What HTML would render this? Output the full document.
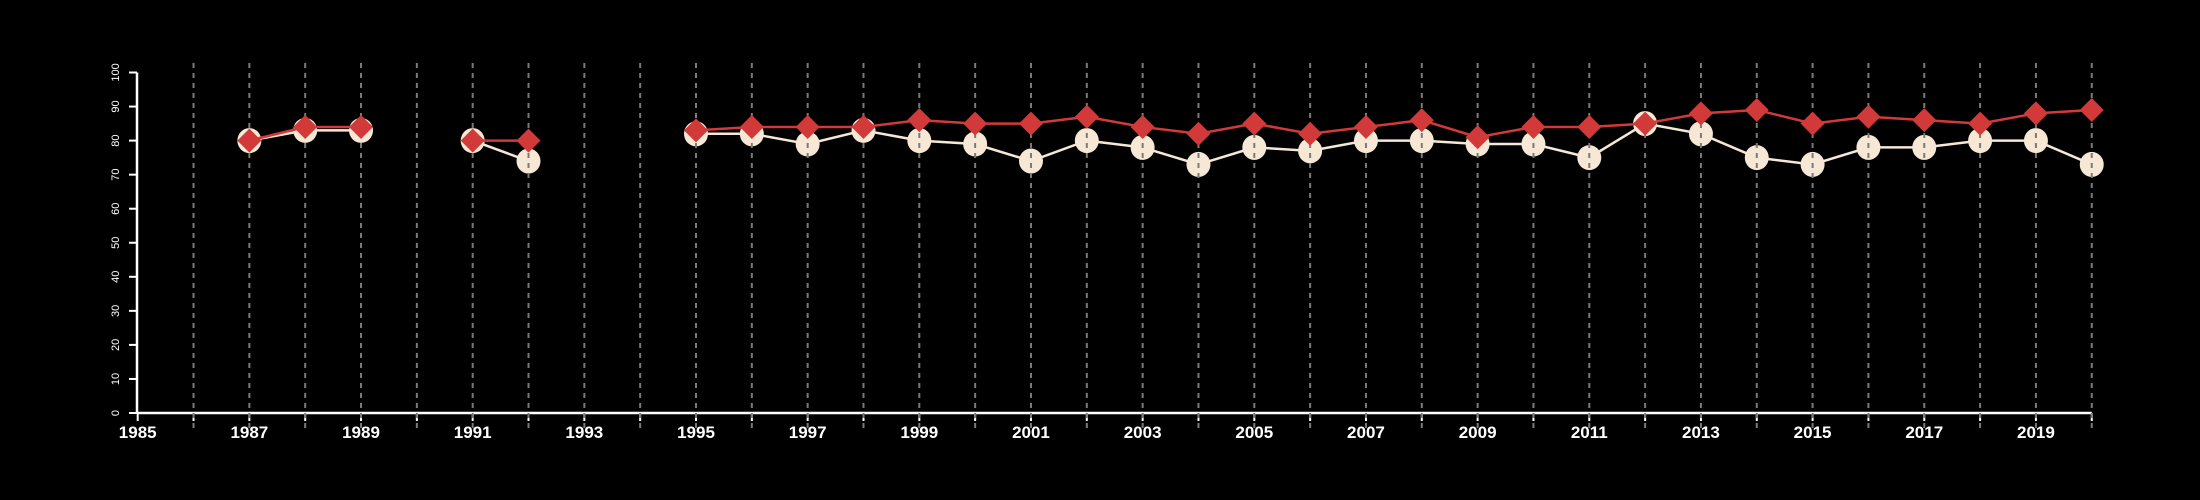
<!DOCTYPE html>
<html><head><meta charset="utf-8"><style>
html,body{margin:0;padding:0;background:#000;}
svg{display:block;}
</style></head><body>
<svg id="c" width="2200" height="500" xmlns="http://www.w3.org/2000/svg" font-family="Liberation Sans, sans-serif"></svg>
<script>
const svg=document.getElementById('c');
const NS='http://www.w3.org/2000/svg';
function el(t,a,txt){const e=document.createElementNS(NS,t);for(const k in a)e.setAttribute(k,a[k]);if(txt!==undefined)e.textContent=txt;svg.appendChild(e);return e;}
const X=y=>137.7+(y-1985)*55.83;
const Y=v=>413-v*3.405;
const white=[[1987,80],[1988,83],[1989,83],null,[1991,80],[1992,74],null,[1995,82],[1996,82],[1997,79],[1998,83],[1999,80],[2000,79],[2001,74],[2002,80],[2003,78],[2004,73],[2005,78],[2006,77],[2007,80],[2008,80],[2009,79],[2010,79],[2011,75],[2012,85],[2013,82],[2014,75],[2015,73],[2016,78],[2017,78],[2018,80],[2019,80],[2020,73]];
const red=[[1987,80],[1988,84],[1989,84],null,[1991,80],[1992,80],null,[1995,83],[1996,84],[1997,84],[1998,84],[1999,86],[2000,85],[2001,85],[2002,87],[2003,84],[2004,82],[2005,85],[2006,82],[2007,84],[2008,86],[2009,81],[2010,84],[2011,84],[2012,85],[2013,88],[2014,89],[2015,85],[2016,87],[2017,86],[2018,85],[2019,88],[2020,89]];
function lines(d,col){let seg=[];const flush=()=>{if(seg.length>1)el('polyline',{points:seg.map(p=>X(p[0])+','+Y(p[1])).join(' '),fill:'none',stroke:col,'stroke-width':2.5});seg=[];};d.forEach(p=>{if(p)seg.push(p);else flush();});flush();}
el('line',{x1:137.7,y1:413,x2:X(2020),y2:413,stroke:'#fff','stroke-width':2.5});
el('line',{x1:137,y1:72.5,x2:137,y2:413,stroke:'#fff','stroke-width':2.5});
for(let v=0;v<=100;v+=10){el('line',{x1:129,y1:Y(v),x2:137,y2:Y(v),stroke:'#fff','stroke-width':2});
 el('text',{x:0,y:0,fill:'#fff','font-size':11,'text-anchor':'middle',transform:`translate(119,${Y(v)}) rotate(-90)`},v);}
for(let y=1985;y<=2020;y++){el('line',{x1:X(y),y1:413,x2:X(y),y2:421,stroke:'#fff','stroke-width':2});
 if(y%2==1)el('text',{x:X(y),y:438,fill:'#fff','font-size':17,'font-weight':'bold','text-anchor':'middle'},y);}
lines(white,'#f7e8d5');
white.forEach(p=>{if(p)el('ellipse',{cx:X(p[0]),cy:Y(p[1]),rx:12,ry:12.5,fill:'#f7e8d5'});});
for(let y=1986;y<=2020;y++)el('line',{x1:X(y),y1:63,x2:X(y),y2:428,stroke:'#7a7a7a','stroke-width':2,'stroke-dasharray':'5,5'});
lines(red,'#d23a3a');
red.forEach(p=>{if(p){const x=X(p[0]),y=Y(p[1]),r=12;el('polygon',{points:`${x},${y-r} ${x+r},${y} ${x},${y+r} ${x-r},${y}`,fill:'#d23a3a'});}});
</script>
</body></html>
